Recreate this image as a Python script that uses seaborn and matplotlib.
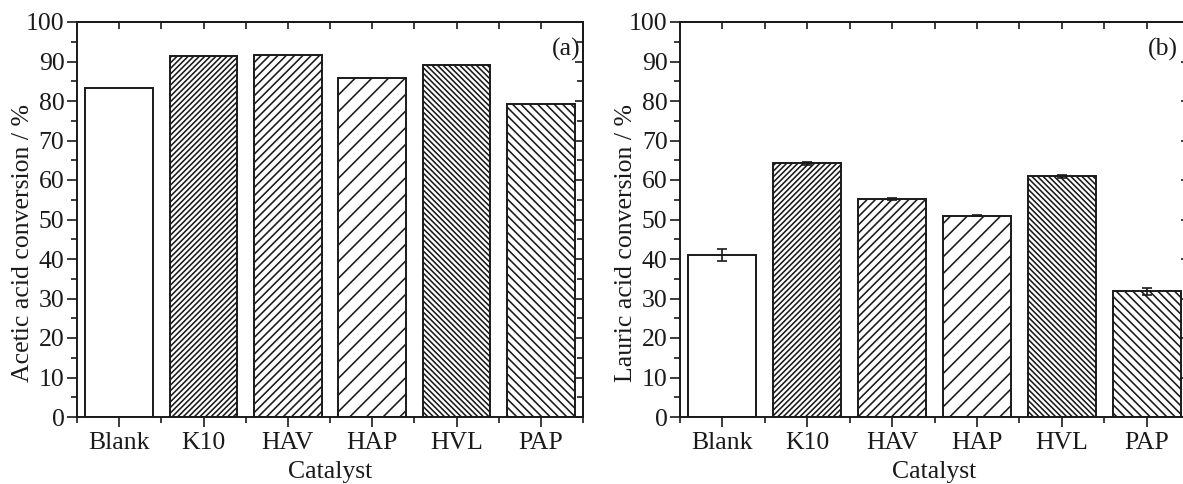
import matplotlib
matplotlib.use("Agg")
import matplotlib.pyplot as plt
import seaborn as sns
import pandas as pd
import numpy as np
from matplotlib.ticker import MultipleLocator, FixedLocator, NullFormatter

catalysts = ["Blank", "K10", "HAV", "HAP", "HVL", "PAP"]
acetic_conv = [83.4, 91.3, 91.7, 85.9, 89.0, 79.3]
lauric_conv = [41.0, 64.2, 55.2, 51.0, 60.9, 31.8]
lauric_err = [1.5, 0.3, 0.2, 0.2, 0.3, 0.9]
hatches = ["", "//////", "////", "//", "\\\\\\\\\\\\", "\\\\\\\\"]
panel_tags = ["(a)", "(b)"]
ylabels = ["Acetic acid conversion / %", "Lauric acid conversion / %"]

sns.set_style("ticks")
plt.rcParams["font.family"] = ["Liberation Serif", "DejaVu Serif"]
plt.rcParams["hatch.linewidth"] = 1.15
plt.rcParams["hatch.color"] = "#1a1a1a"

FS = 18.5

fig = plt.figure(figsize=(11.83, 4.84), dpi=100)
W, H = 1183, 484
ax1 = fig.add_axes([77 / W, 67 / H, 506 / W, 395 / H])
ax2 = fig.add_axes([680 / W, 67 / H, 509 / W, 395 / H])

datasets = [
    pd.DataFrame({"Catalyst": catalysts, "val": acetic_conv}),
    pd.DataFrame({"Catalyst": catalysts, "val": lauric_conv}),
]
tag_x = [0.995, 0.978]

for i, (ax, df) in enumerate(zip([ax1, ax2], datasets)):
    sns.barplot(data=df, x="Catalyst", y="val", ax=ax, color="white",
                edgecolor="#1a1a1a", linewidth=1.4, width=0.8,
                saturation=1, errorbar=None, order=catalysts)
    for p, h in zip(ax.patches, hatches):
        p.set_hatch(h)
        p.set_facecolor("white")
    if i == 1:
        ax.errorbar(x=catalysts, y=lauric_conv, yerr=lauric_err, fmt="none",
                    ecolor="#1a1a1a", elinewidth=1.2, capsize=3.5, capthick=1.2)
    ax.set_xlim(-0.5, 5.5)
    ax.set_ylim(0, 100)
    ax.yaxis.set_major_locator(MultipleLocator(10))
    ax.yaxis.set_minor_locator(MultipleLocator(5))
    ax.xaxis.set_minor_locator(FixedLocator(np.arange(-0.5, 6.0, 1.0)))
    ax.tick_params(axis="both", which="major", direction="out", length=7,
                   width=1.2, labelsize=FS, color="#1a1a1a", labelcolor="#1a1a1a",
                   pad=2)
    ax.tick_params(axis="x", which="major", pad=4)
    ax.tick_params(axis="both", which="minor", direction="out", length=4,
                   width=1.2, color="#1a1a1a")
    for s in ax.spines.values():
        s.set_linewidth(1.4)
        s.set_color("#1a1a1a")
        s.set_visible(True)
    ax.set_xlabel("Catalyst", fontsize=FS, color="#1a1a1a")
    ax.set_ylabel(ylabels[i], fontsize=FS, color="#1a1a1a")
    ax.yaxis.set_label_coords(-0.085, 0.44)
    ax.xaxis.set_label_coords(0.5, -0.112)
    # mirrored inward ticks on top and right
    top = ax.secondary_xaxis("top")
    top.set_xticks(np.arange(0, 6))
    top.xaxis.set_minor_locator(FixedLocator(np.arange(-0.5, 6.0, 1.0)))
    top.tick_params(which="both", direction="in", length=5, width=1.2,
                    labeltop=False, color="#1a1a1a")
    top.xaxis.set_major_formatter(NullFormatter())
    top.spines["top"].set_linewidth(1.4)
    right = ax.secondary_yaxis("right")
    right.yaxis.set_major_locator(MultipleLocator(10))
    right.yaxis.set_minor_locator(MultipleLocator(5))
    right.tick_params(which="major", direction="in", length=6, width=1.2,
                      labelright=False, color="#1a1a1a")
    right.tick_params(which="minor", direction="in", length=4, width=1.2,
                      color="#1a1a1a")
    right.yaxis.set_major_formatter(NullFormatter())
    right.spines["right"].set_linewidth(1.4)
    ax.text(tag_x[i], 0.93, panel_tags[i], transform=ax.transAxes, ha="right",
            va="center", fontsize=FS, color="#1a1a1a")

fig.savefig("out.png", dpi=100)
